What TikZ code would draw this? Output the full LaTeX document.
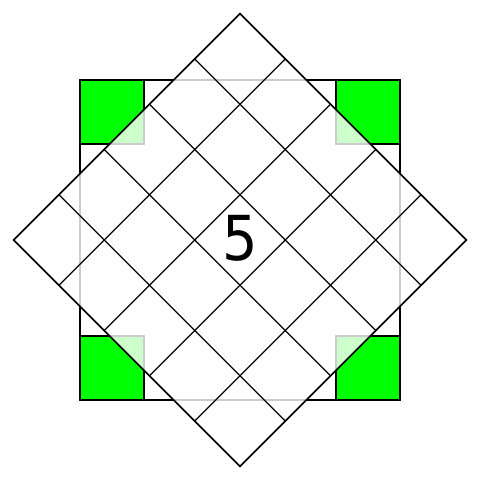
\documentclass[tikz,border=0pt]{standalone}
\usepackage{fontspec}
\setmainfont{DejaVu Sans Condensed}
\begin{document}
\begin{tikzpicture}[x=1pt,y=-1pt,
  sq/.style={draw=black,line width=1.6pt},
  corner/.style={fill=green,draw=black,line width=1.6pt},
  dia/.style={fill=white,fill opacity=0.8,draw=black,line width=1.4pt},
  gridl/.style={draw=black,line width=1.2pt}]
\useasboundingbox (0,0) rectangle (480,480);
\draw[sq] (80,80) rectangle (400,400);
\draw[corner] (80,80) rectangle (144,144);
\draw[corner] (336,80) rectangle (400,144);
\draw[corner] (80,336) rectangle (144,400);
\draw[corner] (336,336) rectangle (400,400);
\begin{scope}[shift={(240,240)},rotate=45]
  \draw[dia] (-160,-160) rectangle (160,160);
  \foreach \t in {-96,-32,32,96} {
    \draw[gridl] (\t,-160) -- (\t,160);
    \draw[gridl] (-160,\t) -- (160,\t);
  }
  \draw[black,line width=1.4pt] (-160,-160) rectangle (160,160);
\end{scope}
\node[font=\fontsize{62}{62}\selectfont] (five) at (240,238) {5};
\end{tikzpicture}
\end{document}
